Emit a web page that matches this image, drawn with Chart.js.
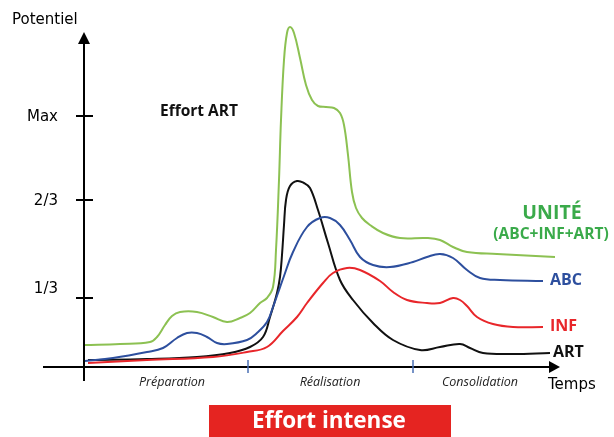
<!DOCTYPE html>
<html>
<head>
<meta charset="utf-8">
<script src="https://cdn.jsdelivr.net/npm/chart.js@4/dist/chart.umd.min.js"></script>
<style>
  html, body { margin: 0; padding: 0; background: #fff; }
  #wrap { width: 614px; height: 437px; position: relative; }
</style>
</head>
<body>
<div id="wrap"><canvas id="c"></canvas></div>
<script>
// ---- Data (time units along x, potential units along y) ----
const unitX = [1, 36, 66, 73, 81, 88, 96, 113, 129, 143, 156, 166, 176, 183, 189, 192, 195, 197, 200, 203, 206, 210, 216, 222, 228, 234, 242, 250, 256, 260, 264, 268, 272, 278, 286, 299, 316, 343, 356, 369, 383, 413, 471];
const unitY = [22, 23, 25, 30, 42, 51, 55, 55, 50, 45, 49, 54, 64, 69, 80, 117, 187, 247, 307, 334, 340, 334, 309, 282, 267, 261, 260, 259, 254, 242, 212, 175, 159, 149, 142, 134, 129, 129, 127, 120, 115, 113, 110];

const abcX = [1, 29, 63, 79, 93, 103, 113, 123, 133, 143, 163, 173, 183, 189, 194, 200, 209, 223, 236, 246, 256, 266, 276, 289, 306, 329, 343, 356, 369, 383, 396, 416, 459];
const abcY = [6, 9, 15, 19, 29, 34, 34, 30, 24, 23, 27, 34, 45, 60, 74, 91, 115, 140, 149, 149, 142, 127, 110, 102, 100, 105, 110, 113, 109, 97, 89, 87, 86];

const infX = [4, 63, 129, 163, 183, 199, 213, 223, 239, 249, 263, 276, 296, 309, 323, 343, 356, 369, 376, 383, 393, 409, 429, 459];
const infY = [4, 7, 10, 15, 20, 36, 50, 64, 84, 94, 99, 97, 86, 75, 67, 64, 64, 69, 67, 61, 50, 43, 40, 40];

const artX = [4, 63, 113, 146, 166, 179, 186, 193, 196, 198, 200, 202, 206, 213, 220, 226, 234, 244, 256, 269, 289, 309, 336, 356, 376, 386, 399, 429, 466];
const artY = [7, 8, 10, 14, 20, 30, 50, 74, 90, 112, 142, 167, 181, 186, 184, 179, 157, 124, 87, 67, 44, 27, 17, 20, 23, 19, 14, 13, 14];

const yTickValues = [69, 167, 251];
const yTickLabels = ['1/3', '2/3', 'Max'];
const phaseBounds = [164, 329];
const phaseCenters = [88, 246, 396];
const phaseLabels = ['Préparation', 'Réalisation', 'Consolidation'];

const seriesNames = ['UNITÉ', 'ABC', 'INF', 'ART'];
const seriesColors = ['#8cc152', '#2d4f9e', '#e8262a', '#111111'];

const X_MAX = 476, Y_MAX = 347, X_AXIS_END = 476, Y_AXIS_TOP = 335;

function pts(xs, ys) { return xs.map((x, i) => ({ x: x, y: ys[i] })); }

const decor = {
  id: 'decor',
  beforeDatasetsDraw(chart) {
    const ctx = chart.ctx, xs = chart.scales.x, ys = chart.scales.y;
    const x0 = xs.getPixelForValue(0), y0 = ys.getPixelForValue(0);
    const xEnd = xs.getPixelForValue(X_AXIS_END), yTop = ys.getPixelForValue(Y_AXIS_TOP);
    ctx.save();
    ctx.strokeStyle = '#000'; ctx.fillStyle = '#000'; ctx.lineWidth = 2;
    // y axis
    ctx.beginPath(); ctx.moveTo(x0, y0 + 14); ctx.lineTo(x0, yTop + 8); ctx.stroke();
    ctx.beginPath(); ctx.moveTo(x0, yTop); ctx.lineTo(x0 - 6, yTop + 12); ctx.lineTo(x0 + 6, yTop + 12); ctx.closePath(); ctx.fill();
    // x axis
    ctx.beginPath(); ctx.moveTo(x0 - 41, y0); ctx.lineTo(xEnd - 8, y0); ctx.stroke();
    ctx.beginPath(); ctx.moveTo(xEnd, y0); ctx.lineTo(xEnd - 11, y0 - 6); ctx.lineTo(xEnd - 11, y0 + 6); ctx.closePath(); ctx.fill();
    // y ticks + labels
    ctx.font = '15px "DejaVu Sans"'; ctx.textAlign = 'right'; ctx.textBaseline = 'middle';
    yTickValues.forEach((v, i) => {
      const py = ys.getPixelForValue(v);
      ctx.beginPath(); ctx.moveTo(x0 - 8, py); ctx.lineTo(x0 + 9, py); ctx.stroke();
      const shift = yTickLabels[i] === '1/3' ? -10 : 0;
      ctx.fillText(yTickLabels[i], x0 - 26, py + shift + 1);
    });
    ctx.textAlign = 'left';
    ctx.fillText('Potentiel', x0 - 72, yTop - 12);
    ctx.fillText('Temps', xEnd - 12, y0 + 18);
    // phase boundary ticks
    ctx.strokeStyle = '#4a6fb5'; ctx.lineWidth = 1.5;
    phaseBounds.forEach(v => {
      const px = xs.getPixelForValue(v);
      ctx.beginPath(); ctx.moveTo(px, y0 - 7); ctx.lineTo(px, y0 + 6); ctx.stroke();
    });
    ctx.fillStyle = '#222'; ctx.textAlign = 'center';
    ctx.font = 'italic 12.5px "Open Sans"';
    phaseLabels.forEach((t, i) => ctx.fillText(t, xs.getPixelForValue(phaseCenters[i]), y0 + 15));
    // Effort intense box
    const bx = xs.getPixelForValue(125), bw = 242;
    ctx.fillStyle = '#e52421'; ctx.fillRect(bx, y0 + 38, bw, 33);
    ctx.fillStyle = '#fff'; ctx.font = 'bold 22.5px "Open Sans"';
    ctx.fillText('Effort intense', bx + bw / 2 - 1, y0 + 55);
    // Effort ART
    ctx.fillStyle = '#111'; ctx.textAlign = 'left'; ctx.font = 'bold 15.5px "Open Sans"';
    ctx.fillText('Effort ART', xs.getPixelForValue(76), ys.getPixelForValue(255));
    ctx.restore();
  },
  afterDatasetsDraw(chart) {
    const ctx = chart.ctx, xs = chart.scales.x, ys = chart.scales.y;
    ctx.save();
    ctx.textBaseline = 'middle'; ctx.textAlign = 'center';
    ctx.fillStyle = '#3aaa4a';
    ctx.font = 'bold 19.5px "Open Sans"';
    ctx.fillText(seriesNames[0], xs.getPixelForValue(468), ys.getPixelForValue(154));
    ctx.font = 'bold 15.5px "Open Sans"';
    ctx.fillText('(ABC+INF+ART)', xs.getPixelForValue(467), ys.getPixelForValue(132));
    ctx.textAlign = 'left'; ctx.font = 'bold 16px "Open Sans"';
    const ends = [abcY[abcY.length - 1], infY[infY.length - 1], artY[artY.length - 1]];
    const endsX = [abcX[abcX.length - 1], infX[infX.length - 1], artX[artX.length - 1]];
    [1, 2, 3].forEach((k, i) => {
      ctx.fillStyle = seriesColors[k];
      ctx.fillText(seriesNames[k], xs.getPixelForValue(endsX[i]) + 7 - (k === 3 ? 4 : 0), ys.getPixelForValue(ends[i]) - 1);
    });
    ctx.restore();
  }
};

const mk = (xs, ys, i) => ({
  label: seriesNames[i], data: pts(xs, ys), borderColor: seriesColors[i],
  borderWidth: 2, pointRadius: 0, fill: false, tension: 0.4, clip: false
});

new Chart(document.getElementById('c'), {
  type: 'line',
  data: { datasets: [mk(unitX, unitY, 0), mk(abcX, abcY, 1), mk(infX, infY, 2), mk(artX, artY, 3)] },
  options: {
    responsive: true, maintainAspectRatio: false, animation: false,
    layout: { padding: { left: 84, right: 54, top: 20, bottom: 70 } },
    plugins: { legend: { display: false }, tooltip: { enabled: false } },
    scales: {
      x: { type: 'linear', min: 0, max: X_MAX, display: false },
      y: { type: 'linear', min: 0, max: Y_MAX, display: false }
    }
  },
  plugins: [decor]
});
</script>
</body>
</html>
